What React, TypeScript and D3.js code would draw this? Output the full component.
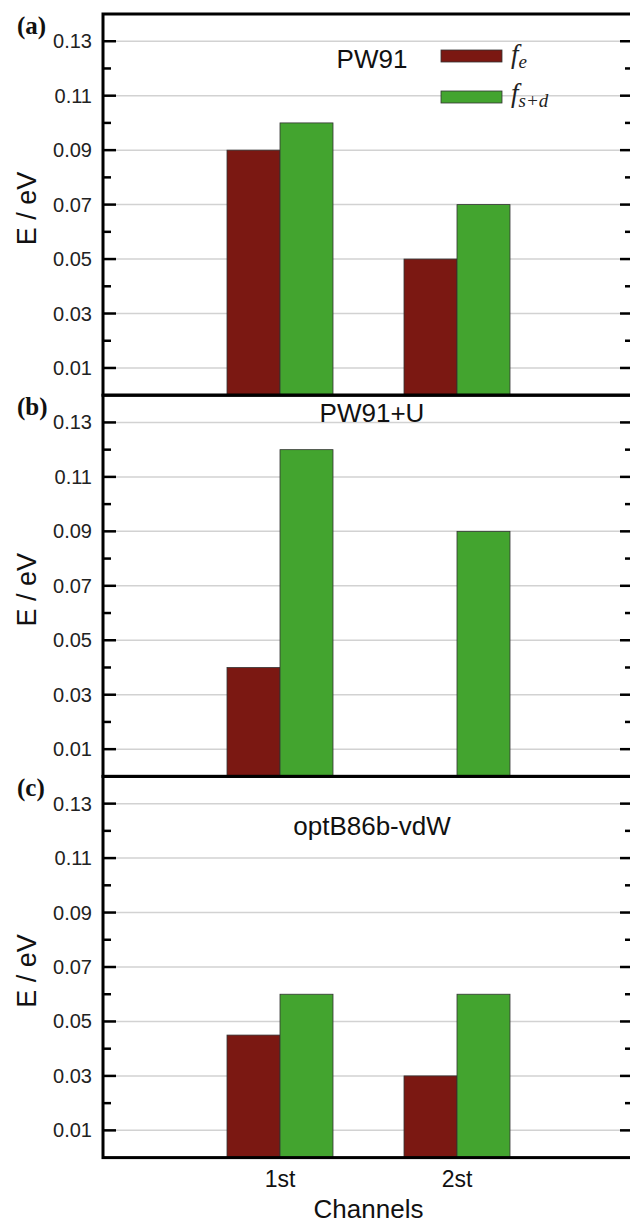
import React from 'react';
import * as d3 from 'd3';

const width = 630;
const height = 1224;
const red = '#7B1812';
const green = '#43A42F';

// data
const categories = ['1st', '2st'];
const panelTags = ['(a)', '(b)', '(c)'];
const methods = ['PW91', 'PW91+U', 'optB86b-vdW'];
const feValues = [
  [0.09, 0.05],
  [0.04, 0],
  [0.045, 0.03],
];
const fsdValues = [
  [0.1, 0.07],
  [0.12, 0.09],
  [0.06, 0.06],
];
const majorTicks = [0.01, 0.03, 0.05, 0.07, 0.09, 0.11, 0.13];
const minorTicks = [0.02, 0.04, 0.06, 0.08, 0.1, 0.12];
const tickLabels = ['0.01', '0.03', '0.05', '0.07', '0.09', '0.11', '0.13'];

const left = 103;
const right = 634;
const top = 14;
const panelH = 381.2;
const barW = 53;
const sans = "'Liberation Sans', Arial, sans-serif";
const serif = "'Liberation Serif', 'Times New Roman', serif";

// method label baseline offsets from panel top
const methodY = [54, 27, 59];

const x = d3.scaleLinear().domain([0, 3]).range([left, right]);
const inner = d3.scaleBand().domain(['fe', 'fsd']).range([-barW, barW]);

function Panel({ i }: { i: number }) {
  const y0 = top + i * panelH;
  const y = d3.scaleLinear().domain([0, 0.14]).range([y0 + panelH, y0]);
  const bars: { key: string; cx: number; v: number; s: string; c: string }[] = [];
  categories.forEach((cat, j) => {
    bars.push({ key: cat + 'fe', cx: j + 1, v: feValues[i][j], s: 'fe', c: red });
    bars.push({ key: cat + 'fsd', cx: j + 1, v: fsdValues[i][j], s: 'fsd', c: green });
  });
  return (
    <g>
      {majorTicks.map((t) => (
        <line key={'g' + t} x1={left} x2={right} y1={y(t)} y2={y(t)} stroke="#d2d2d2" strokeWidth={1.5} />
      ))}
      {bars
        .filter((b) => b.v > 0)
        .map((b) => (
          <rect
            key={b.key}
            x={x(b.cx) + (inner(b.s) as number)}
            y={y(b.v)}
            width={inner.bandwidth()}
            height={y(0) - y(b.v)}
            fill={b.c}
            stroke="#333"
            strokeWidth={0.8}
          />
        ))}
      {majorTicks.map((t, k) => (
        <g key={'t' + t}>
          <line x1={left} x2={left + 13} y1={y(t)} y2={y(t)} stroke="#000" strokeWidth={2.5} />
          <line x1={right - 14} x2={right} y1={y(t)} y2={y(t)} stroke="#000" strokeWidth={2.5} />
          <text x={92} y={y(t)} dy="0.35em" textAnchor="end" fontFamily={sans} fontSize={20} fill="#222">
            {tickLabels[k]}
          </text>
        </g>
      ))}
      {minorTicks.map((t) => (
        <g key={'m' + t}>
          <line x1={left} x2={left + 8} y1={y(t)} y2={y(t)} stroke="#000" strokeWidth={2.5} />
          <line x1={right - 9} x2={right} y1={y(t)} y2={y(t)} stroke="#000" strokeWidth={2.5} />
        </g>
      ))}
      <rect x={left} y={y0} width={right - left} height={panelH} fill="none" stroke="#000" strokeWidth={3} />
      <text x={17} y={y0 + 20} fontFamily={serif} fontWeight="bold" fontSize={25} fill="#111">
        {panelTags[i]}
      </text>
      <text
        transform={`translate(27,${y0 + panelH / 2 + 4}) rotate(-90)`}
        textAnchor="middle"
        dominantBaseline="central"
        fontFamily={sans}
        fontSize={27}
        fill="#111"
      >
        E / eV
      </text>
      <text x={372} y={y0 + methodY[i]} textAnchor="middle" fontFamily={sans} fontSize={26} fill="#111">
        {methods[i]}
      </text>
    </g>
  );
}

export default function App() {
  const bottom = top + 3 * panelH;
  return (
    <svg
      width={width}
      height={height}
      style={{ position: 'absolute', left: 0, top: 0, background: '#fff' }}
    >
      {[0, 1, 2].map((i) => (
        <Panel key={i} i={i} />
      ))}
      {categories.map((c, j) => (
        <text key={c} x={x(j + 1)} y={bottom + 29} textAnchor="middle" fontFamily={sans} fontSize={23} fill="#111">
          {c}
        </text>
      ))}
      <text x={x(1.5)} y={bottom + 60} textAnchor="middle" fontFamily={sans} fontSize={26} fill="#111">
        Channels
      </text>
      {/* legend */}
      <rect x={441} y={50} width={61} height={12} fill={red} stroke="#333" strokeWidth={0.8} />
      <rect x={441} y={91} width={61} height={12} fill={green} stroke="#333" strokeWidth={0.8} />
      <text x={511} y={63} fontFamily={serif} fontStyle="italic" fontSize={27} fill="#222">
        f<tspan fontSize={19} dy={5}>e</tspan>
      </text>
      <text x={511} y={102} fontFamily={serif} fontStyle="italic" fontSize={27} fill="#222">
        f<tspan fontSize={19} dy={5}>s+d</tspan>
      </text>
    </svg>
  );
}
